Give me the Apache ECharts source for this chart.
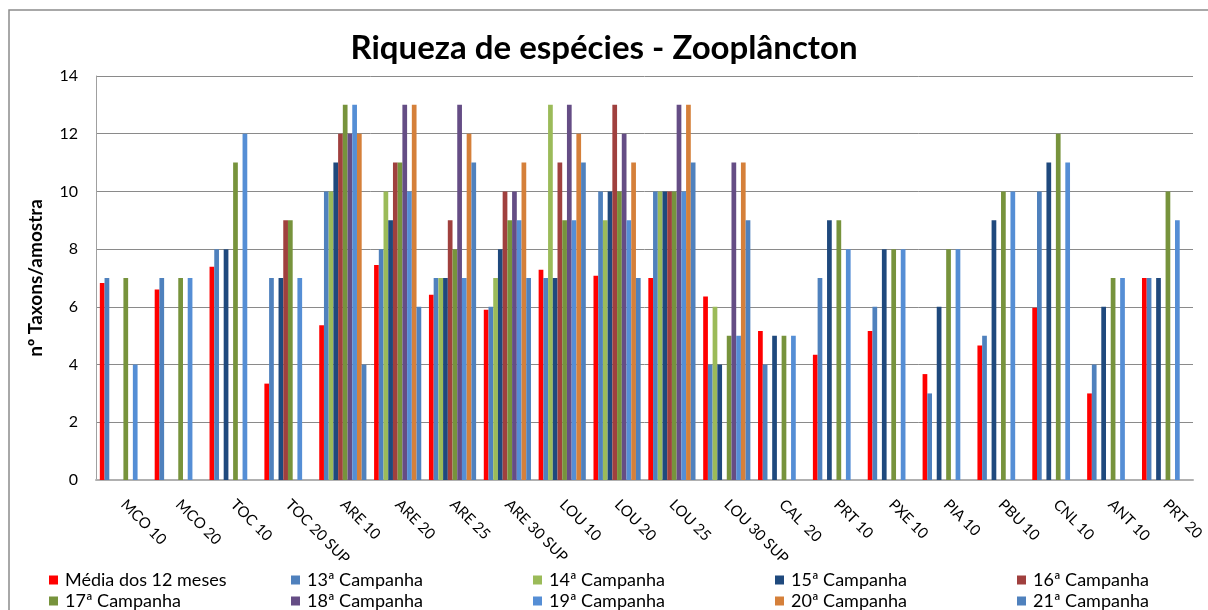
<!DOCTYPE html>
<html>
<head>
<meta charset="utf-8">
<script src="https://cdn.jsdelivr.net/npm/echarts@6/dist/echarts.min.js"></script>
<style>
  html, body { margin: 0; padding: 0; background: #fff; }
  #chart { width: 1208px; height: 610px; }
</style>
</head>
<body>
<div id="chart"></div>
<script>
// Sampling stations
const categories = ['MCO 10', 'MCO 20', 'TOC 10', 'TOC 20 SUP', 'ARE 10', 'ARE 20', 'ARE 25', 'ARE 30 SUP',
  'LOU 10', 'LOU 20', 'LOU 25', 'LOU 30 SUP', 'CAL  20', 'PRT 10', 'PXE 10', 'PIA 10', 'PBU 10', 'CNL 10', 'ANT 10', 'PRT 20'];

// Species richness (nº taxa per sample) per campaign; null = not sampled
const media12 = [6.83, 6.6, 7.39, 3.34, 5.36, 7.45, 6.42, 5.9, 7.29, 7.08, 7.0, 6.36, 5.16, 4.34, 5.16, 3.67, 4.66, 5.97, 3.0, 7.0];
const camp13 = [7, 7, 8, 7, 10, 8, 7, 6, 7, 10, 10, 4, 4, 7, 6, 3, 5, 10, 4, 7];
const camp14 = [null, null, null, null, 10, 10, 7, 7, 13, 9, 10, 6, null, null, null, null, null, null, null, null];
const camp15 = [null, null, 8, 7, 11, 9, 7, 8, 7, 10, 10, 4, 5, 9, 8, 6, 9, 11, 6, 7];
const camp16 = [null, null, null, 9, 12, 11, 9, 10, 11, 13, 10, null, null, null, null, null, null, null, null, null];
const camp17 = [7, 7, 11, 9, 13, 11, 8, 9, 9, 10, 10, 5, 5, 9, 8, 8, 10, 12, 7, 10];
const camp18 = [null, null, null, null, 12, 13, 13, 10, 13, 12, 13, 11, null, null, null, null, null, null, null, null];
const camp19 = [4, 7, 12, 7, 13, 10, 7, 9, 9, 9, 10, 5, 5, 8, 8, 8, 10, 11, 7, 9];
const camp20 = [null, null, null, null, 12, 13, 12, 11, 12, 11, 13, 11, null, null, null, null, null, null, null, null];
const camp21 = [null, null, null, null, 4, 6, 11, 7, 11, 7, 11, 9, null, null, null, null, null, null, null, null];

const seriesNames = ['Média dos 12 meses', '13ª Campanha', '14ª Campanha', '15ª Campanha', '16ª Campanha',
  '17ª Campanha', '18ª Campanha', '19ª Campanha', '20ª Campanha', '21ª Campanha'];
const seriesData = [media12, camp13, camp14, camp15, camp16, camp17, camp18, camp19, camp20, camp21];
const seriesColors = ['#FF0000', '#4F81BD', '#9BBB59', '#1F497D', '#A0403E',
  '#77933C', '#654D85', '#558ED5', '#D5803A', '#4F81BD'];

const yTicks = { min: 0, max: 14, interval: 2 };

const FONT = 'Lato';

// Legend: five columns, two rows
const legendCols = [49, 291, 533, 775, 1017];
const legendRows = [571, 592];
const legends = seriesNames.map((name, i) => ({
  data: [name],
  left: legendCols[i % 5],
  top: legendRows[Math.floor(i / 5)],
  orient: 'horizontal',
  itemWidth: 9,
  itemHeight: 9,
  itemGap: 0,
  icon: 'rect',
  padding: 0,
  textStyle: { fontFamily: FONT, fontSize: 18, color: '#000', padding: [0, 0, 0, 2] }
}));

const chart = echarts.init(document.getElementById('chart'), null, { renderer: 'canvas' });

chart.setOption({
  backgroundColor: '#fff',
  animation: false,
  title: {
    text: 'Riqueza de espécies - Zooplâncton',
    left: 'center',
    top: 27,
    textStyle: { fontFamily: FONT, fontSize: 33, fontWeight: 'bold', color: '#000' }
  },
  graphic: [{
    type: 'rect',
    shape: { x: 9, y: 10, width: 1300, height: 700 },
    style: { fill: 'none', stroke: '#8C8C8C', lineWidth: 1.5 },
    silent: true
  }],
  legend: legends,
  grid: { left: 96, right: 15, top: 76, bottom: 130, containLabel: false },
  xAxis: {
    type: 'category',
    data: categories,
    axisLine: { lineStyle: { color: '#B0B0B0', width: 2 } },
    axisTick: { show: false },
    axisLabel: {
      interval: 0,
      rotate: -45,
      margin: 22,
      fontFamily: FONT,
      fontSize: 15,
      color: '#000'
    }
  },
  yAxis: {
    type: 'value',
    min: yTicks.min,
    max: yTicks.max,
    interval: yTicks.interval,
    name: 'nº Taxons/amostra',
    nameLocation: 'middle',
    nameGap: 51,
    nameRotate: 90,
    nameTextStyle: { fontFamily: FONT, fontSize: 19, fontWeight: 'bold', color: '#000' },
    axisLine: { show: true, lineStyle: { color: '#A0A0A0', width: 1 } },
    axisTick: { show: false },
    axisLabel: { margin: 18, fontFamily: FONT, fontSize: 16, color: '#000' },
    splitLine: { lineStyle: { color: '#8A8A8A', width: 1 } }
  },
  series: seriesNames.map((name, i) => ({
    name: name,
    type: 'bar',
    data: seriesData[i],
    barGap: '0%',
    barCategoryGap: '14%',
    itemStyle: { color: seriesColors[i] }
  }))
});
</script>
</body>
</html>
